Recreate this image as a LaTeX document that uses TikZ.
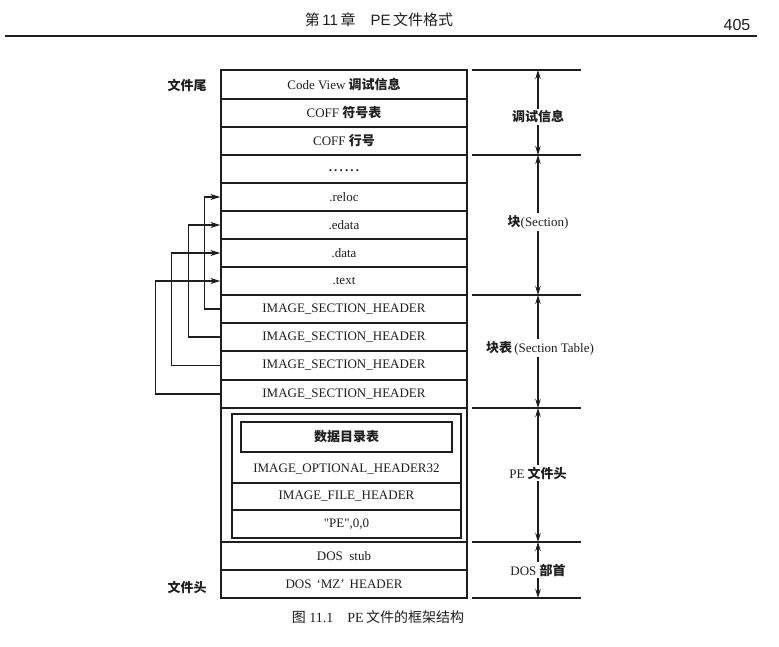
\documentclass[tikz,border=0pt]{standalone}
\usepackage{fontspec}
\setmainfont{Liberation Serif}
\newfontfamily\rawserif{Liberation Serif}[Ligatures=Common]
\newfontfamily\cjk{Noto Sans CJK SC}
\newfontfamily\hsans{Liberation Sans}
\usetikzlibrary{arrows.meta}
\newcommand\zh[1]{{\cjk\bfseries #1}}
\definecolor{ink}{RGB}{30,30,30}
\tikzset{
  row/.style={draw=ink, line width=1.3pt, minimum width=246pt, inner sep=0pt,
    font=\fontsize{13}{14}\selectfont, text=ink},
  inrow/.style={draw=ink, line width=1.3pt, minimum width=229pt, inner sep=0pt,
    font=\fontsize{13}{14}\selectfont, text=ink},
  txt/.style={inner sep=0pt, font=\fontsize{13}{14}\selectfont, text=ink},
  side/.style={inner sep=2pt, fill=white, font=\fontsize{13}{14}\selectfont, text=ink},
  conn/.style={draw=ink, line width=1.2pt, -{Stealth[length=10pt,width=6pt]}},
  dim/.style={draw=ink, line width=1.1pt, -{Stealth[length=9pt,width=5.5pt]}},
  divline/.style={draw=ink, line width=1.3pt},
}
\begin{document}
\begin{tikzpicture}[x=1pt,y=-1pt]
\useasboundingbox (0,0) rectangle (779,647);
% page header
\node[inner sep=0pt, font=\hsans\fontsize{15}{16}\selectfont, text=ink] (hdr) at (379,20)
  {{\cjk 第}\,11\,{\cjk 章}\quad PE\,{\cjk 文件格式}};
\node[inner sep=0pt, font=\hsans\fontsize{16}{17}\selectfont, text=ink] (pg) at (737,25) {405};
\coordinate (rl) at (5,36);
\coordinate (rr) at (757,36);
\draw[ink, line width=2pt] (rl) -- (rr);

% main stack
\node[row, minimum height=29pt] (r1) at (344,84.5) {Code View \zh{调试信息}};
\node[row, minimum height=28pt] (r2) at (344,113) {COFF \zh{符号表}};
\node[row, minimum height=28pt] (r3) at (344,141) {COFF \zh{行号}};
\node[row, minimum height=28pt] (r4) at (344,169) {\vphantom{Ag}\textbf{.\,.\,.\,.\,.\,.}};
\node[row, minimum height=28pt] (reloc) at (344,197) {.reloc};
\node[row, minimum height=28pt] (edata) at (344,225) {.edata};
\node[row, minimum height=28pt] (data) at (344,253) {.data};
\node[row, minimum height=28pt] (text) at (344,281) {.text};
\node[row, minimum height=28pt] (ish1) at (344,309) {IMAGE\_SECTION\_HEADER};
\node[row, minimum height=28pt] (ish2) at (344,337) {IMAGE\_SECTION\_HEADER};
\node[row, minimum height=29pt] (ish3) at (344,365.5) {IMAGE\_SECTION\_HEADER};
\node[row, minimum height=28pt] (ish4) at (344,394) {IMAGE\_SECTION\_HEADER};
\node[row, minimum height=134pt] (pe) at (344,475) {};
\node[row, minimum height=28pt] (stub) at (344,556) {DOS\ \ stub};
\node[row, minimum height=28pt] (mz) at (344,584) {DOS\hspace{5pt}‘MZ’\hspace{5pt}HEADER};

% PE header inner
\node[inrow, minimum height=69pt] (opt) at (346.5,448.5) {};
\node[inrow, minimum height=27pt] (fh) at (346.5,496.5) {IMAGE\_FILE\_HEADER};
\node[inrow, minimum height=28pt] (pesig) at (346.5,524) {{\rawserif "PE"},0,0};
\node[draw=ink, line width=1.5pt, minimum width=211pt, minimum height=30pt, inner sep=0pt,
  font=\fontsize{13}{14}\selectfont, text=ink] (dir) at (346.5,437) {\zh{数据目录表}};
\node[txt] (optl) at (346.5,469) {IMAGE\_OPTIONAL\_HEADER32};

% left labels
\node[txt] (tail) at (187,85) {\zh{文件尾}};
\node[txt] (head) at (187,587) {\zh{文件头}};

% connectors
\draw[conn] (ish1.west) -- ++(-16,0) |- (reloc.west);
\draw[conn] (ish2.west) -- ++(-32,0) |- (edata.west);
\draw[conn] (ish3.west) -- ++(-49,0) |- (data.west);
\draw[conn] (ish4.west) -- ++(-65,0) |- (text.west);

% right-side division lines
\foreach \n/\y in {0/70,1/155,2/295,3/408,4/542,5/598}{
  \coordinate (dl\n) at (472,\y);
  \coordinate (dr\n) at (581,\y);
  \coordinate (dm\n) at (538,\y);
  \draw[divline] (dl\n) -- (dr\n);
}
\node[side] (s1) at (538,117) {\zh{调试信息}};
\node[side] (s2) at (538,222) {\zh{块}(Section)};
\node[side] (s3) at (540,348) {\zh{块表}\,(Section Table)};
\node[side] (s4) at (538,473) {PE \zh{文件头}};
\node[side] (s5) at (538,570) {DOS \zh{部首}};
\draw[dim] (s1.north) -- (dm0);
\draw[dim] (s1.south) -- (dm1);
\draw[dim] (s2.north) -- (dm1);
\draw[dim] (s2.south) -- (dm2);
\draw[dim] (s3.north -| dm2) -- (dm2);
\draw[dim] (s3.south -| dm3) -- (dm3);
\draw[dim] (s4.north) -- (dm3);
\draw[dim] (s4.south) -- (dm4);
\draw[dim] (s5.north) -- (dm4);
\draw[dim] (s5.south) -- (dm5);

% caption
\node[inner sep=0pt, font=\fontsize{14}{16}\selectfont, text=ink] (cap) at (378,617)
  {{\cjk 图}\ 11.1\quad PE\,{\cjk 文件的框架结构}};
\end{tikzpicture}
\end{document}
